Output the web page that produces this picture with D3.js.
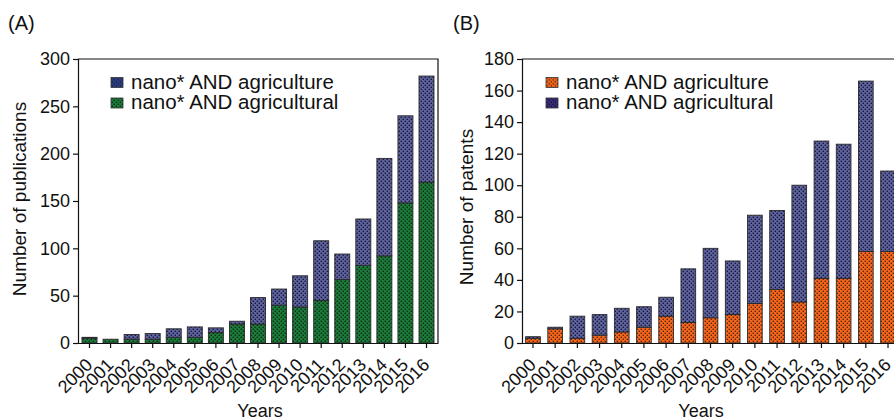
<!DOCTYPE html>
<html>
<head>
<meta charset="utf-8">
<script src="https://cdn.jsdelivr.net/npm/d3@7"></script>
<style>
  body { margin: 0; background: #fff; }
  svg text { font-family: "Liberation Sans", Arial, Helvetica, sans-serif; fill: #111; }
</style>
</head>
<body>
<svg id="chart" width="894" height="420"></svg>
<script>
// years on the x axis (both panels)
var years = ["2000", "2001", "2002", "2003", "2004", "2005", "2006", "2007", "2008",
             "2009", "2010", "2011", "2012", "2013", "2014", "2015", "2016"];

// (A) publications: bottom segment (green) and top segment (navy)
var pubAgricultural = [5, 4, 4, 4, 6, 6, 11, 20, 20, 40, 38, 45, 67, 82, 92, 148, 170];
var pubAgriculture  = [1, 0, 5, 6, 9, 11, 5, 3, 28, 17, 33, 63, 27, 49, 103, 92, 112];
var pubTicks = [0, 50, 100, 150, 200, 250, 300];

// (B) patents: bottom segment (orange) and top segment (navy)
var patAgriculture  = [3, 9, 3, 5, 7, 10, 17, 13, 16, 18, 25, 34, 26, 41, 41, 58, 58];
var patAgricultural = [1, 1, 14, 13, 15, 13, 12, 34, 44, 34, 56, 50, 74, 87, 85, 108, 51];
var patTicks = [0, 20, 40, 60, 80, 100, 120, 140, 160, 180];

var svg = d3.select("#chart");
var defs = svg.append("defs");

// dotted fills
function dotPattern(id, base, dot) {
    var p = defs.append("pattern")
        .attr("id", id)
        .attr("patternUnits", "userSpaceOnUse")
        .attr("width", 4).attr("height", 4);
    p.append("rect").attr("width", 4).attr("height", 4).attr("fill", base);
    p.append("rect").attr("x", 0.6).attr("y", 0.6).attr("width", 1.4).attr("height", 1.4).attr("fill", dot);
    p.append("rect").attr("x", 2.6).attr("y", 2.6).attr("width", 1.4).attr("height", 1.4).attr("fill", dot);
}
dotPattern("navy", "#5d619c", "#17193a");
dotPattern("green", "#1c7a3a", "#0a2c13");
dotPattern("orange", "#f5661c", "#5a2608");
dotPattern("navyLeg", "#2e3f82", "#0f1a40");
dotPattern("purpleLeg", "#3a2e7a", "#140f33");

function panel(opt) {
    var g = svg.append("g");
    var x = d3.scaleBand().domain(years)
        .range([opt.left, opt.right])
        .paddingInner(opt.padIn).paddingOuter(opt.padOut);
    var y = d3.scaleLinear().domain([0, opt.max]).range([opt.bottom, opt.top]);

    var rows = years.map(function(yr, i) {
        return { year: yr, a: opt.low[i], b: opt.high[i] };
    });
    var series = d3.stack().keys(["a", "b"])(rows);

    // frame (top + right)
    g.append("path")
        .attr("d", "M" + opt.left + "," + opt.top + "H" + opt.right + "V" + opt.bottom)
        .attr("fill", "none").attr("stroke", "#111").attr("stroke-width", 1.2);

    g.selectAll(".layer")
        .data(series)
        .enter().append("g")
        .attr("fill", function(d, i) { return "url(#" + opt.fills[i] + ")"; })
        .selectAll("rect")
        .data(function(d) { return d; })
        .enter().append("rect")
        .attr("x", function(d) { return x(d.data.year); })
        .attr("width", x.bandwidth())
        .attr("y", function(d) { return y(d[1]); })
        .attr("height", function(d) { return y(d[0]) - y(d[1]); })
        .attr("stroke", "#2a2a2a")
        .attr("stroke-width", 0.9);

    // y axis
    var ya = g.append("g")
        .attr("transform", "translate(" + opt.left + ",0)")
        .call(d3.axisLeft(y).tickValues(opt.ticks).tickSize(5).tickPadding(3));
    ya.selectAll("text").style("font-size", "18px");

    // x axis
    var xa = g.append("g")
        .attr("transform", "translate(0," + opt.bottom + ")")
        .call(d3.axisBottom(x).tickSize(5).tickSizeOuter(0));
    xa.selectAll("text")
        .style("font-size", "18px")
        .attr("text-anchor", "end")
        .attr("dy", 0)
        .attr("transform", "translate(4,23) rotate(-45)")
        .attr("y", 0);
    g.selectAll(".domain, .tick line").attr("stroke", "#111").attr("stroke-width", 1.2);

    // titles
    g.append("text")
        .attr("x", opt.yearsX)
        .attr("y", 417)
        .attr("text-anchor", "middle")
        .style("font-size", "18px")
        .text("Years");
    g.append("text")
        .attr("transform", "translate(" + opt.ylabX + "," + opt.ylabY + ") rotate(-90)")
        .attr("text-anchor", "middle")
        .style("font-size", "19px")
        .text(opt.ylab);
    g.append("text")
        .attr("x", opt.tagX).attr("y", 30)
        .style("font-size", "20px")
        .text(opt.tag);

    // legend
    var leg = g.selectAll(".leg")
        .data(opt.legend)
        .enter().append("g")
        .attr("transform", function(d, i) { return "translate(" + opt.legX + "," + (88.5 + i * 20.5) + ")"; });
    leg.append("rect")
        .attr("x", 0).attr("y", -11)
        .attr("width", 12).attr("height", 10)
        .attr("fill", function(d) { return "url(#" + d.fill + ")"; })
        .attr("stroke", "#333").attr("stroke-width", 0.8);
    leg.append("text")
        .attr("x", 20).attr("y", 0)
        .style("font-size", "20.5px")
        .text(function(d) { return d.name; });
}

panel({
    left: 78, right: 438, top: 59, bottom: 343,
    padIn: 0.288, padOut: 0.19, max: 300, ticks: pubTicks,
    low: pubAgricultural, high: pubAgriculture,
    fills: ["green", "navy"],
    ylab: "Number of publications", ylabX: 26, ylabY: 199, tag: "(A)", tagX: 8,
    yearsX: 260, legX: 111,
    legend: [{ name: "nano* AND agriculture", fill: "navyLeg" },
             { name: "nano* AND agricultural", fill: "green" }]
});

panel({
    left: 522, right: 899, top: 59, bottom: 343,
    padIn: 0.338, padOut: 0.164, max: 180, ticks: patTicks,
    low: patAgriculture, high: patAgricultural,
    fills: ["orange", "navy"],
    ylab: "Number of patents", ylabX: 473, ylabY: 207, tag: "(B)", tagX: 453,
    yearsX: 701, legX: 546,
    legend: [{ name: "nano* AND agriculture", fill: "orange" },
             { name: "nano* AND agricultural", fill: "purpleLeg" }]
});
</script>
</body>
</html>
